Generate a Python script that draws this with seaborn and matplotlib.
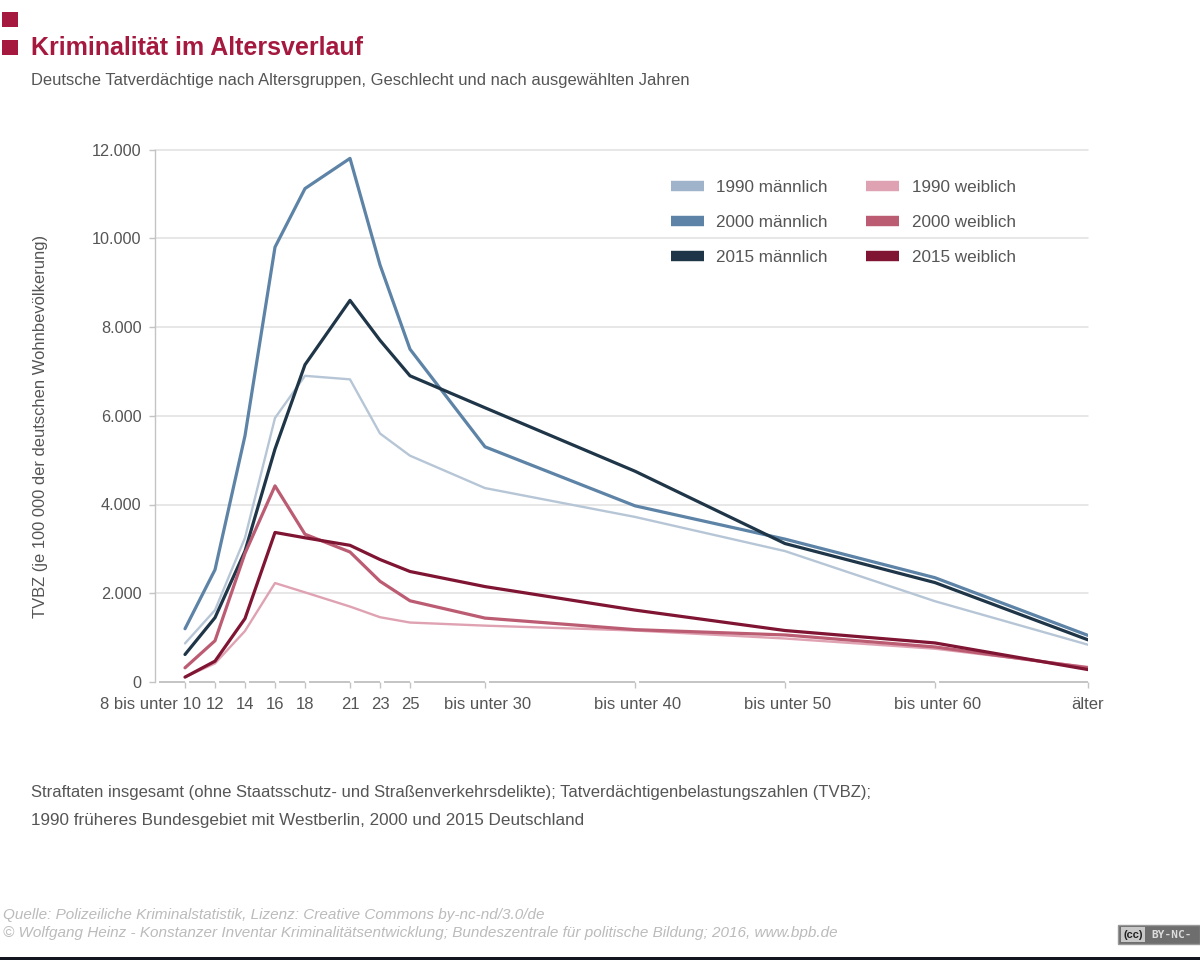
import matplotlib
matplotlib.use("Agg")
import matplotlib.pyplot as plt
import matplotlib.transforms as mtrans
from matplotlib.patches import Rectangle
import pandas as pd
import seaborn as sns

# age group upper limits, "aelter" sits a bit past 70 on the axis
ages = [10, 12, 14, 16, 18, 21, 23, 25, 30, 40, 50, 60, 70.2]
age_labels = ["8 bis unter 10", "12", "14", "16", "18", "21", "23", "25",
              "bis unter 30", "bis unter 40", "bis unter 50", "bis unter 60", "älter"]

m1990 = [870, 1620, 3250, 5950, 6900, 6820, 5600, 5100, 4370, 3720, 2950, 1820, 840]
m2000 = [1200, 2530, 5550, 9800, 11120, 11800, 9400, 7500, 5300, 3970, 3220, 2350, 1050]
m2015 = [620, 1450, 2950, 5250, 7150, 8600, 7700, 6900, 6180, 4750, 3120, 2240, 950]
w1990 = [110, 420, 1150, 2230, 2020, 1700, 1460, 1340, 1270, 1160, 980, 750, 340]
w2000 = [320, 930, 2900, 4420, 3330, 2930, 2270, 1830, 1440, 1180, 1060, 790, 320]
w2015 = [110, 470, 1430, 3370, 3250, 3080, 2760, 2490, 2150, 1620, 1160, 880, 280]

series = {"1990 männlich": m1990, "2000 männlich": m2000, "2015 männlich": m2015,
          "1990 weiblich": w1990, "2000 weiblich": w2000, "2015 weiblich": w2015}
colors = {"1990 männlich": "#b6c6d6", "2000 männlich": "#5d83a6", "2015 männlich": "#1f3548",
          "1990 weiblich": "#dfa2b2", "2000 weiblich": "#bb5c73", "2015 weiblich": "#7f1433"}
widths = {"1990 männlich": 1.7, "2000 männlich": 2.3, "2015 männlich": 2.3,
          "1990 weiblich": 1.7, "2000 weiblich": 2.3, "2015 weiblich": 2.3}
yticks = [0, 2000, 4000, 6000, 8000, 10000, 12000]

rows = []
for name, values in series.items():
    for age, val in zip(ages, values):
        rows.append({"age": age, "tvbz": val, "serie": name})
df = pd.DataFrame(rows)

sns.set_theme(style="white")
plt.rcParams["font.family"] = ["Liberation Sans", "DejaVu Sans"]

W, H = 1200, 960
fig = plt.figure(figsize=(W / 100, H / 100), dpi=100, facecolor="white")
ax = fig.add_axes([155 / W, 1 - 682 / H, (1088 - 155) / W, (682 - 149.5) / H])

text_col = "#555555"
axis_col = "#c4c4c4"

sns.lineplot(data=df, x="age", y="tvbz", hue="serie", size="serie",
             palette=colors, sizes=widths, hue_order=list(series), size_order=list(series),
             estimator=None, sort=False, ax=ax, zorder=3)

ax.set_xlim(8, 70.2)
ax.set_ylim(0, 12000)
ax.set_xlabel("")
ax.set_ylabel("TVBZ (je 100 000 der deutschen Wohnbevölkerung)", fontsize=11.9,
              color=text_col, labelpad=0)
ax.yaxis.set_label_coords((48 - 155) / 933, 0.48)

ax.set_yticks(yticks)
ax.set_yticklabels([f"{v:,}".replace(",", ".") for v in yticks], fontsize=11.7, color=text_col)
ax.set_xticks(ages)
ax.set_xticklabels(age_labels, fontsize=12, color=text_col)
ax.tick_params(axis="x", length=4.5, width=1, color=axis_col, bottom=True, pad=6)
ax.tick_params(axis="y", length=4, width=1, color=axis_col, left=True, pad=5.8)

# long first label runs off to the left of its tick, the others sit slightly right
xlabels = ax.get_xticklabels()
xlabels[0].set_ha("right")
xlabels[0].set_transform(xlabels[0].get_transform() + mtrans.ScaledTranslation(16 / 100, 0, fig.dpi_scale_trans))
for lab in xlabels[8:12]:
    lab.set_transform(lab.get_transform() + mtrans.ScaledTranslation(3 / 100, 0, fig.dpi_scale_trans))

ax.grid(axis="y", color="#e0e0e0", linewidth=1.1)
ax.set_axisbelow(True)
for gl in ax.get_ygridlines():
    gl.set_clip_on(False)
ax.get_ygridlines()[0].set_visible(False)
for side in ["top", "right", "bottom"]:
    ax.spines[side].set_visible(False)
ax.spines["left"].set_color(axis_col)
ax.spines["left"].set_linewidth(1)

# baseline is broken up just behind every tick
starts = [8] + ages[:-1]
ax.hlines([0] * len(ages), [s + 0.25 for s in starts], ages, color=axis_col, linewidth=1.4,
          zorder=2, clip_on=False)

handles, labels = ax.get_legend_handles_labels()
leg = ax.legend(handles, labels, ncol=2, frameon=False, fontsize=12.3, labelcolor=text_col,
                loc="upper left", bbox_to_anchor=(507 / 933, 0.9596), handlelength=1.93,
                handletextpad=0.76, columnspacing=2.2, labelspacing=1.17, borderpad=0)
for line in leg.get_lines():
    line.set_linewidth(7.5)
    line.set_solid_capstyle("butt")
leg.get_lines()[0].set_color("#9fb4cb")

# header
red = "#a5193f"
fig.add_artist(Rectangle((2 / W, 1 - 27 / H), 16 / W, 15 / H, transform=fig.transFigure, color=red, lw=0))
fig.add_artist(Rectangle((2 / W, 1 - 55 / H), 16 / W, 15 / H, transform=fig.transFigure, color=red, lw=0))
fig.text(31 / W, 1 - 48 / H, "Kriminalität im Altersverlauf", fontsize=18, fontweight="bold",
         color=red, va="center")
fig.text(31 / W, 1 - 80 / H, "Deutsche Tatverdächtige nach Altersgruppen, Geschlecht und nach ausgewählten Jahren",
         fontsize=11.93, color=text_col, va="center")

# notes
fig.text(31 / W, 1 - 793 / H,
         "Straftaten insgesamt (ohne Staatsschutz- und Straßenverkehrsdelikte); Tatverdächtigenbelastungszahlen (TVBZ);",
         fontsize=11.96, color=text_col, va="center")
fig.text(31 / W, 1 - 821 / H, "1990 früheres Bundesgebiet mit Westberlin, 2000 und 2015 Deutschland",
         fontsize=12.3, color=text_col, va="center")
fig.text(3 / W, 1 - 915 / H, "Quelle: Polizeiliche Kriminalstatistik, Lizenz: Creative Commons by-nc-nd/3.0/de",
         fontsize=11, style="italic", color="#bbbbbb", va="center")
fig.text(3 / W, 1 - 933 / H,
         "© Wolfgang Heinz - Konstanzer Inventar Kriminalitätsentwicklung; Bundeszentrale für politische Bildung; 2016, www.bpb.de",
         fontsize=11, style="italic", color="#bbbbbb", va="center")

# licence badge and dark strip at the bottom edge
fig.add_artist(Rectangle((1118 / W, 1 - 944 / H), 82 / W, 19 / H, transform=fig.transFigure,
                         facecolor="#6e6e6e", edgecolor="#999999", lw=1))
fig.add_artist(Rectangle((1121 / W, 1 - 942 / H), 24 / W, 15 / H, transform=fig.transFigure,
                         facecolor="#c8c8c8", lw=0))
fig.text(1133 / W, 1 - 934.5 / H, "(cc)", fontsize=8, fontweight="bold", color="#222222", va="center", ha="center")
fig.text(1151 / W, 1 - 934.5 / H, "BY-NC-", fontsize=8, fontweight="bold", color="#dddddd", va="center",
         family="DejaVu Sans Mono")
fig.add_artist(Rectangle((0, 0), 1, 3 / H, transform=fig.transFigure, color="#14161f", lw=0))

fig.savefig("out.png", dpi=100)
